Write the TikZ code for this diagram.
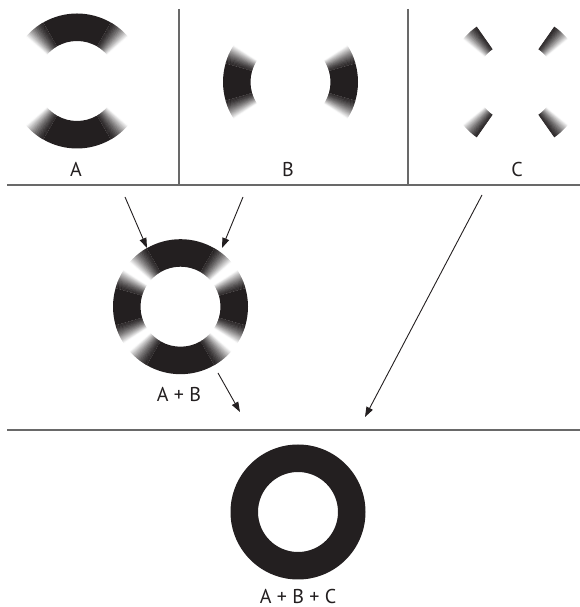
\documentclass[tikz,border=0pt]{standalone}
\usepackage{fontspec}
\setmainfont{PT Sans}
\usetikzlibrary{arrows.meta}

\definecolor{ink}{RGB}{35,31,32}
\definecolor{rulegray}{RGB}{105,105,105}

% ring radii
\newcommand\Rout{67.5pt}
\newcommand\Rin{40pt}
\newcommand\Rdiff{27.5pt}

% solid band sector: centre x, centre y, from angle, to angle
\newcommand\bandsolid[4]{%
  \pgfmathsetmacro\bsback{#4+180}%
  \fill[ink] (#1,#2) ++(#3:\Rout) arc[start angle=#3,end angle=#4,radius=\Rout]
    -- ++(\bsback:\Rdiff) arc[start angle=#4,end angle=#3,radius=\Rin] -- cycle;
}

% band sector fading from ink at the first angle to white at the second
\newcommand\bandfade[4]{%
  \foreach \k in {0,...,39}{%
    \pgfmathsetmacro\aa{#3+(#4-#3)*\k/40}%
    \pgfmathsetmacro\bb{#3+(#4-#3)*(\k+1.5)/40}%
    \pgfmathsetmacro\cc{\bb+180}%
    \pgfmathtruncatemacro\pc{100-100*((\k+0.5)/40)^1.4}%
    \fill[ink!\pc] (#1,#2) ++(\aa:\Rout) arc[start angle=\aa,end angle=\bb,radius=\Rout]
      -- ++(\cc:\Rdiff) arc[start angle=\bb,end angle=\aa,radius=\Rin] -- cycle;
  }%
}

% top and bottom arcs
\newcommand\partA[2]{%
  \bandsolid{#1}{#2}{60}{120}\bandfade{#1}{#2}{60}{41}\bandfade{#1}{#2}{120}{139}%
  \bandsolid{#1}{#2}{240}{300}\bandfade{#1}{#2}{240}{221}\bandfade{#1}{#2}{300}{319}%
}
% left and right arcs
\newcommand\partB[2]{%
  \bandsolid{#1}{#2}{164}{196}\bandfade{#1}{#2}{164}{147}\bandfade{#1}{#2}{196}{213}%
  \bandsolid{#1}{#2}{-16}{16}\bandfade{#1}{#2}{16}{33}\bandfade{#1}{#2}{-16}{-33}%
}
% four diagonal pieces
\newcommand\partC[2]{%
  \bandfade{#1}{#2}{55}{39}\bandfade{#1}{#2}{125}{141}%
  \bandfade{#1}{#2}{235}{219}\bandfade{#1}{#2}{305}{321}%
}

\begin{document}
\begin{tikzpicture}[x=1pt,y=1pt,
  rule/.style={draw=rulegray,line width=1.3pt},
  link/.style={draw=ink,line width=0.9pt,-{Triangle[length=10pt,width=7pt]}},
  tag/.style={anchor=base,text=ink,font=\fontsize{20}{24}\selectfont,inner sep=0pt}]
\useasboundingbox (0,0) rectangle (580,607);

% panel rules
\draw[rule] (7,422) -- (580,422);
\draw[rule] (179,598) -- (179,422);
\draw[rule] (408,598) -- (408,422);
\draw[rule] (7,177) -- (580,177);

% components
\partA{77}{526}
\partB{290.5}{525}
\partC{515.5}{525}

% sum of A and B
\partA{180.5}{300.3}
\partB{180.5}{300.3}

% full ring
\fill[ink,even odd rule] (298,95) circle[radius=\Rout] (298,95) circle[radius=\Rin];

% labels
\node[tag] (lA) at (76,430) {A};
\node[tag] (lB) at (288,430) {B};
\node[tag] (lC) at (517,430) {C};
\node[tag] (lAB) at (179,205) {A + B};
\node[tag] (lABC) at (298,4) {A + B + C};

% connector ends
\coordinate (a1s) at (125,410); \coordinate (a1e) at (147,359);
\coordinate (a2s) at (243,410); \coordinate (a2e) at (222,359);
\coordinate (a3s) at (218,234); \coordinate (a3e) at (240,195);
\coordinate (a4s) at (482,412); \coordinate (a4e) at (365,190);
\draw[link] (a1s) -- (a1e);
\draw[link] (a2s) -- (a2e);
\draw[link] (a3s) -- (a3e);
\draw[link] (a4s) -- (a4e);
\end{tikzpicture}
\end{document}
